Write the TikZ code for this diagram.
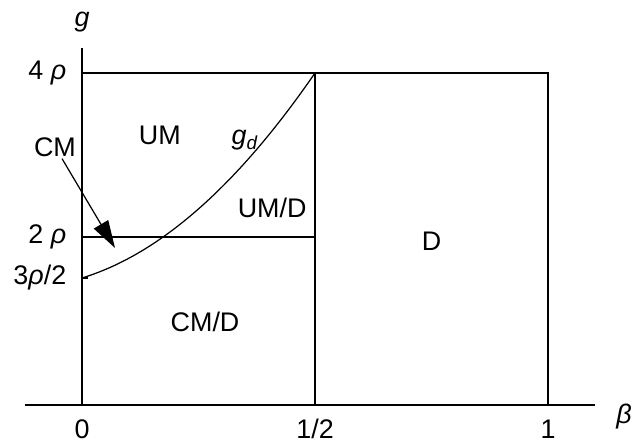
\documentclass[tikz,border=0pt]{standalone}
\usepackage{fontspec}
\setmainfont{Liberation Sans}
\usepackage{tikz}
\usetikzlibrary{arrows.meta,positioning,calc}

\begin{document}
\begin{tikzpicture}[x=9.32cm,y=1.64cm,line width=0.7pt,
    every node/.style={font=\fontsize{15.3}{18}\selectfont},
    region/.style={inner sep=1pt},
    ticklbl/.style={inner sep=2pt}]
  \useasboundingbox (-0.176,-0.524) rectangle (1.1845,4.890);
  % eixos
  \draw (-0.122,-0.05) -- (1.1,-0.05);
  \draw (0,-0.05) -- (0,4.30);
  \node (ylab) at (0,4.62) {\textit{g}};
  \node (xlab) at (1.163,-0.19) {\textit{β}};
  % ticks eixo x
  \foreach \x/\lbl/\nm in {0/0/a, 0.5/1\slash2/b, 1/1/c} {
    \node[ticklbl] (x\nm) at (\x,-0.34) {\lbl};
  }
  % ticks eixo y
  \draw (0,1.5) -- (0.012,1.5);
  \node[ticklbl,left] (y4) at (-0.025,4) {4 \textit{ρ}};
  \node[ticklbl,left] (y2) at (-0.025,2) {2 \textit{ρ}};
  \node[ticklbl,left] (y3) at (-0.025,1.5) {3\textit{ρ}/2};
  % fronteiras
  \draw (0,4) -- (1,4) -- (1,-0.05);
  \draw (0.5,4) -- (0.5,-0.05);
  \draw (0,2) -- (0.5,2);
  % curva g_d (aproximada)
  \draw[domain=0:0.5, samples=60]
    plot (\x, {1.5+1.74*\x+6.52*\x*\x});
  \node (gd) at (0.35,3.18) {\textit{g}\textsubscript{\textit{d}}};
  % regioes
  \node[region] (um) at (0.167,3.24) {UM};
  \node[region] (umd) at (0.408,2.35) {UM/D};
  \node[region] (d) at (0.75,1.95) {D};
  \node[region] (cmd) at (0.264,0.96) {CM/D};
  \node[region] (cm) at (-0.058,3.10) {CM};
  \coordinate (cmtip) at (0.0708,1.866);
  \draw[-{Triangle[length=5.5mm,width=3.3mm]}] (cm) -- (cmtip);
\end{tikzpicture}
\end{document}
